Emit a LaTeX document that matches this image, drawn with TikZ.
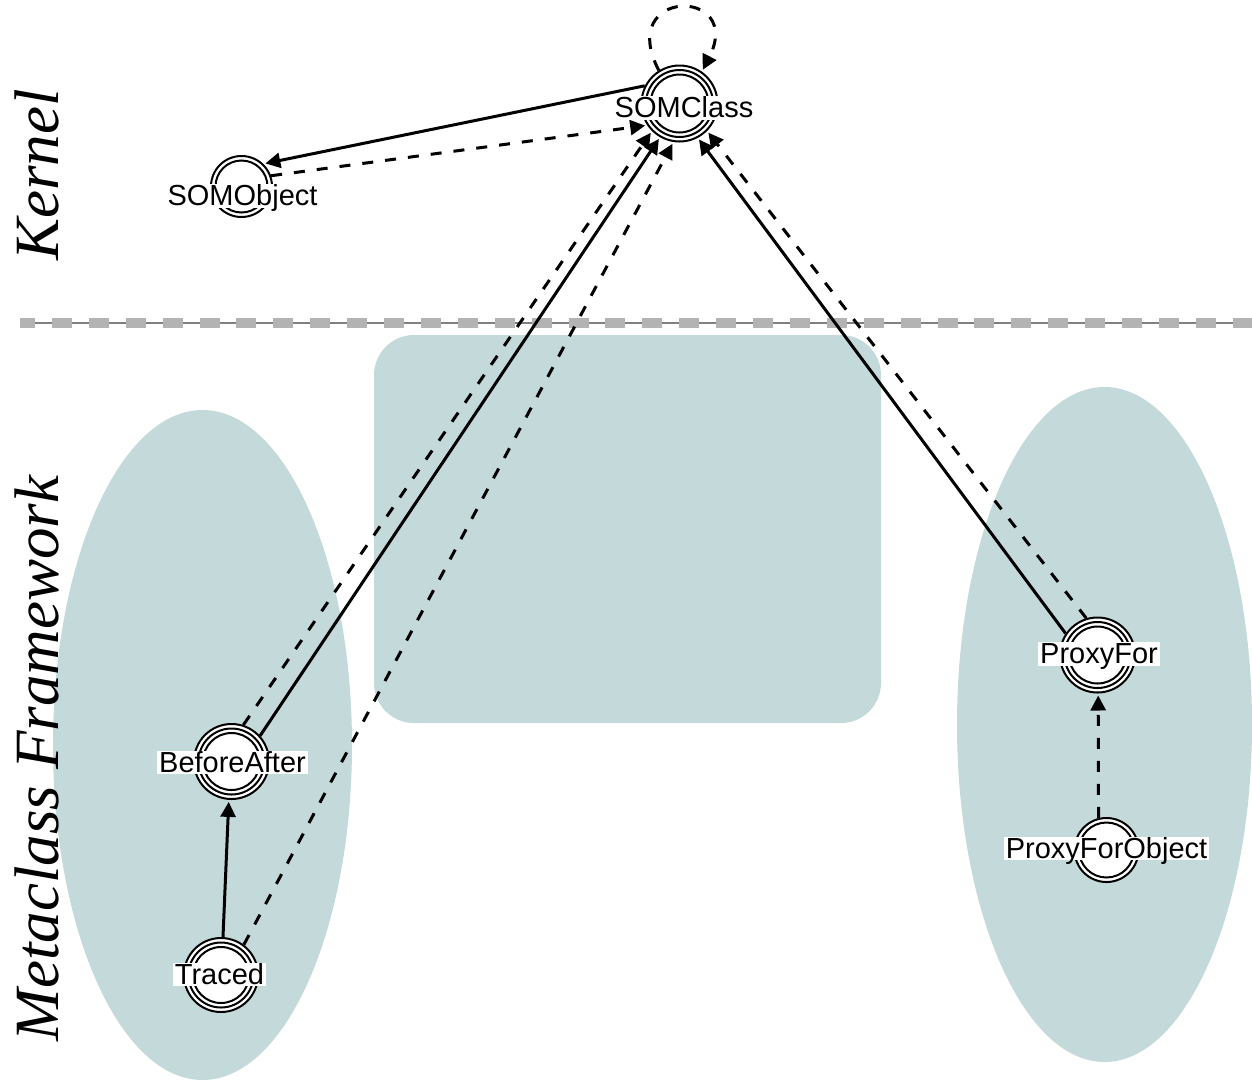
\documentclass[tikz,border=0pt]{standalone}
\usepackage{fontspec}
\setmainfont{Liberation Sans}
\newfontfamily\lserif{Liberation Serif}
\usetikzlibrary{arrows.meta}
\definecolor{teal0}{HTML}{C4D9DA}
\definecolor{gdash}{HTML}{B3B3B3}
\definecolor{gline}{HTML}{808080}
\tikzset{
  areafill/.style={fill=teal0, draw=none},
  statenode/.style={circle, draw, fill=white, line width=2pt, inner sep=0pt},
  ring/.style={line width=2pt},
  lbl/.style={fill=white, inner xsep=2pt, inner ysep=0.5pt, font=\fontsize{29pt}{34pt}\selectfont, text height=21pt, text depth=1.5pt},
  sidelbl/.style={rotate=90, anchor=base, inner sep=0pt, font=\lserif\itshape\fontsize{63pt}{70pt}\selectfont},
  edgesolid/.style={line width=3pt, -{Triangle[length=15pt,width=15pt]}, shorten >=2pt},
  edgedash/.style={edgesolid, dash pattern=on 11pt off 12pt},
}
\begin{document}
\begin{tikzpicture}[x=1pt,y=-1pt]
\useasboundingbox (0,0) rectangle (1252,1082);
% background areas
\fill[areafill] (202.5,745) ellipse [x radius=149.5pt, y radius=335pt];
\fill[areafill] (1104.5,724.5) ellipse [x radius=147.5pt, y radius=337.5pt];
\fill[areafill, rounded corners=40pt] (374,335) rectangle (881,723);
% separator
\draw[gline, line width=1.5pt] (20,323) -- (1252,323);
\draw[gdash, line width=10pt, dash pattern=on 20pt off 16.9pt, dash phase=5pt] (20,323) -- (1252,323);
% side labels
\node[sidelbl] (kernel) at (58,175) {Kernel};
\node[sidelbl] (meta) at (58,758.5) {Metaclass Framework};
% states
\node[statenode, minimum size=76pt] (SOMClass) at (679.5,103.5) {};
\draw[ring] (SOMClass.center) circle[radius=33.5pt] circle[radius=29pt];
\node[statenode, minimum size=61pt] (SOMObject) at (241.5,186.5) {};
\draw[ring] (SOMObject.center) circle[radius=26pt];
\node[statenode, minimum size=75pt] (BeforeAfter) at (231.5,761.5) {};
\draw[ring] (BeforeAfter.center) circle[radius=33pt] circle[radius=28.5pt];
\node[statenode, minimum size=74pt] (Traced) at (221,975) {};
\draw[ring] (Traced.center) circle[radius=32.5pt] circle[radius=28pt];
\node[statenode, minimum size=75pt] (ProxyFor) at (1097.5,655) {};
\draw[ring] (ProxyFor.center) circle[radius=33pt] circle[radius=28.5pt];
\node[statenode, minimum size=64pt] (ProxyForObject) at (1106.5,850) {};
\draw[ring] (ProxyForObject.center) circle[radius=27.5pt];
% edges
\draw[edgesolid] (SOMClass.153) -- (SOMObject.46);
\draw[edgedash] (SOMObject.20) -- (SOMClass.214);
\draw[edgedash] (BeforeAfter.72) -- (SOMClass.225);
\draw[edgesolid] (BeforeAfter.42) -- (SOMClass.240);
\draw[edgedash] (Traced.53) -- (SOMClass.261);
\draw[edgesolid] (ProxyFor.146) -- (SOMClass.298);
\draw[edgedash] (ProxyFor.107) -- (SOMClass.315);
\draw[edgedash] (ProxyForObject.104) -- (ProxyFor.271);
\draw[edgesolid] (Traced.87) -- (BeforeAfter.266);
\draw[edgedash] (SOMClass.122) .. controls (615,-13) and (745,-13) .. (SOMClass.55);
% labels
\node[lbl] (lSOMClass) at (684,108) {SOMClass};
\node[lbl] (lSOMObject) at (242.5,196) {SOMObject};
\node[lbl] (lBeforeAfter) at (232.5,762.5) {BeforeAfter};
\node[lbl] (lTraced) at (219.5,974.5) {Traced};
\node[lbl] (lProxyFor) at (1099,654) {ProxyFor};
\node[lbl] (lProxyForObject) at (1106.5,848.5) {ProxyForObject};
\end{tikzpicture}
\end{document}
